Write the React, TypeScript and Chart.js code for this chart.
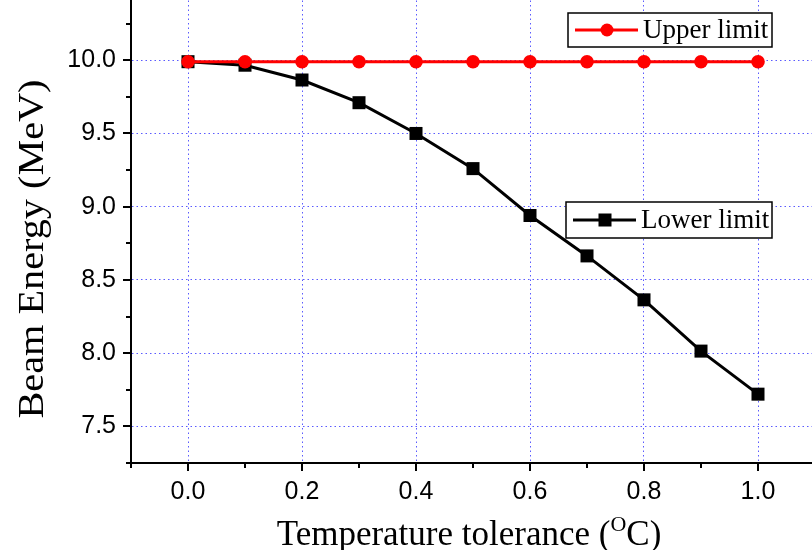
import React, { useEffect, useRef } from "react";
import { Chart, registerables } from "chart.js";

Chart.register(...registerables);

// ---- data ----
const temperatureTolerance = [0.0, 0.1, 0.2, 0.3, 0.4, 0.5, 0.6, 0.7, 0.8, 0.9, 1.0];
const upperLimit = [9.99, 9.99, 9.99, 9.99, 9.99, 9.99, 9.99, 9.99, 9.99, 9.99, 9.99];
const lowerLimit = [9.99, 9.966, 9.865, 9.71, 9.5, 9.26, 8.94, 8.664, 8.364, 8.014, 7.72];

const xMajorTicks = [0.0, 0.2, 0.4, 0.6, 0.8, 1.0];
const xMinorTicks = [-0.1, 0.1, 0.3, 0.5, 0.7, 0.9, 1.1];
const yMajorTicks = [7.5, 8.0, 8.5, 9.0, 9.5, 10.0];
const yMinorTicks = [7.25, 7.75, 8.25, 8.75, 9.25, 9.75, 10.25];

const seriesNames = ["Upper limit", "Lower limit"];
const xTitle = ["Temperature tolerance (", "O", "C)"];
const yTitle = "Beam Energy (MeV)";

const SERIF = "'Liberation Serif', 'Times New Roman', serif";
const SANS = "'Liberation Sans', Arial, sans-serif";

const isIn = (arr: number[], v: number) => arr.some((a) => Math.abs(a - v) < 1e-6);

const decorPlugin = {
  id: "decor",
  afterDraw(chart: any) {
    const ctx = chart.ctx;
    const xs = chart.scales.x;
    const ys = chart.scales.y;
    const ca = chart.chartArea;
    ctx.save();
    // tick marks (outward)
    ctx.strokeStyle = "#000";
    ctx.lineWidth = 2;
    ctx.beginPath();
    [...xMajorTicks, ...xMinorTicks].forEach((v) => {
      const px = Math.round(xs.getPixelForValue(v));
      const len = isIn(xMajorTicks, v) ? 8 : 5;
      ctx.moveTo(px, ca.bottom);
      ctx.lineTo(px, ca.bottom + len);
    });
    [...yMajorTicks, ...yMinorTicks].forEach((v) => {
      const py = Math.round(ys.getPixelForValue(v));
      const len = isIn(yMajorTicks, v) ? 8 : 5;
      ctx.moveTo(ca.left, py);
      ctx.lineTo(ca.left - len, py);
    });
    ctx.stroke();

    // axis titles
    ctx.fillStyle = "#000";
    const big = 35;
    const small = 22;
    ctx.font = `${big}px ${SERIF}`;
    const w1 = ctx.measureText(xTitle[0]).width;
    const w3 = ctx.measureText(xTitle[2]).width;
    ctx.font = `${small}px ${SERIF}`;
    const w2 = ctx.measureText(xTitle[1]).width;
    const total = w1 + w2 + w3;
    let tx = (ca.left + ca.right) / 2 - total / 2 - 4;
    const ty = ca.bottom + 82;
    ctx.textBaseline = "alphabetic";
    ctx.textAlign = "left";
    ctx.font = `${big}px ${SERIF}`;
    ctx.fillText(xTitle[0], tx, ty);
    tx += w1;
    ctx.font = `${small}px ${SERIF}`;
    ctx.fillText(xTitle[1], tx, ty - 14);
    tx += w2;
    ctx.font = `${big}px ${SERIF}`;
    ctx.fillText(xTitle[2], tx, ty);

    ctx.save();
    ctx.translate(ca.left - 88, (ca.top + ca.bottom) / 2 + 24);
    ctx.rotate(-Math.PI / 2);
    ctx.scale(1.15, 1);
    ctx.textAlign = "center";
    ctx.textBaseline = "alphabetic";
    ctx.font = `${big}px ${SERIF}`;
    ctx.fillText(yTitle, 0, 0);
    ctx.restore();

    // legends
    const drawLegend = (i: number, bx: number, by: number, bw: number, bh: number) => {
      const ds = chart.data.datasets[i];
      ctx.fillStyle = "#fff";
      ctx.fillRect(bx, by, bw, bh);
      ctx.strokeStyle = "#000";
      ctx.lineWidth = 1.5;
      ctx.strokeRect(bx, by, bw, bh);
      const cy = by + bh / 2;
      ctx.strokeStyle = ds.borderColor;
      ctx.lineWidth = 3;
      ctx.beginPath();
      ctx.moveTo(bx + 7, cy);
      ctx.lineTo(bx + 70, cy);
      ctx.stroke();
      ctx.fillStyle = ds.pointBackgroundColor;
      const mx = bx + 39;
      if (ds.pointStyle === "rect") {
        ctx.fillRect(mx - 6.5, cy - 6.5, 13, 13);
      } else {
        ctx.beginPath();
        ctx.arc(mx, cy, 6.5, 0, Math.PI * 2);
        ctx.fill();
      }
      ctx.fillStyle = "#000";
      ctx.font = `27px ${SERIF}`;
      ctx.textAlign = "left";
      ctx.textBaseline = "middle";
      ctx.fillText(ds.label, bx + 75, cy + 1);
    };
    drawLegend(0, ca.left + 437, ca.top + 26, 204, 34);
    drawLegend(1, ca.left + 435, ca.top + 215, 206, 36);
    ctx.restore();
  },
};

const zeroPad = (s: any) => {
  s.paddingTop = 0;
  s.paddingBottom = 0;
  s.paddingLeft = 0;
  s.paddingRight = 0;
};

export default function App() {
  const ref = useRef<HTMLCanvasElement | null>(null);
  useEffect(() => {
    if (!ref.current) return;
    document.body.style.overflow = "hidden";
    const chart = new Chart(ref.current, {
      type: "line",
      data: {
        datasets: [
          {
            label: seriesNames[0],
            data: temperatureTolerance.map((x, i) => ({ x, y: upperLimit[i] })),
            borderColor: "#ff0000",
            backgroundColor: "#ff0000",
            pointBackgroundColor: "#ff0000",
            pointBorderColor: "#ff0000",
            pointBorderWidth: 0,
            pointStyle: "circle",
            pointRadius: 6.8,
            borderWidth: 3,
            tension: 0,
          },
          {
            label: seriesNames[1],
            data: temperatureTolerance.map((x, i) => ({ x, y: lowerLimit[i] })),
            borderColor: "#000000",
            backgroundColor: "#000000",
            pointBackgroundColor: "#000000",
            pointBorderColor: "#000000",
            pointBorderWidth: 0,
            pointStyle: "rect",
            pointRadius: 9.2,
            borderWidth: 3,
            tension: 0,
          },
        ],
      },
      options: {
        responsive: false,
        animation: false,
        layout: { padding: 0, autoPadding: false },
        plugins: { legend: { display: false }, tooltip: { enabled: false } },
        scales: {
          x: {
            type: "linear",
            min: -0.1,
            max: 1.1,
            afterBuildTicks: (s: any) => {
              s.ticks = [...xMinorTicks, ...xMajorTicks]
                .sort((a, b) => a - b)
                .map((v) => ({ value: v }));
            },
            afterFit: (s: any) => {
              s.height = 87;
              zeroPad(s);
            },
            ticks: {
              autoSkip: false,
              maxRotation: 0,
              padding: 14,
              color: "#000",
              font: { family: SANS, size: 25 },
              callback: (v: any) => (isIn(xMajorTicks, Number(v)) ? Number(v).toFixed(1) : ""),
            },
            grid: {
              drawTicks: false,
              lineWidth: 1,
              color: (c: any) =>
                c.tick && isIn(xMajorTicks, c.tick.value) ? "#5a5aff" : "rgba(0,0,0,0)",
            },
            border: { color: "#000", width: 2, dash: [1.5, 3] },
          },
          y: {
            type: "linear",
            min: 7.25,
            max: 10.5,
            afterBuildTicks: (s: any) => {
              s.ticks = [...yMinorTicks, ...yMajorTicks]
                .sort((a, b) => a - b)
                .map((v) => ({ value: v }));
            },
            afterFit: (s: any) => {
              s.width = 131;
              zeroPad(s);
            },
            ticks: {
              autoSkip: false,
              padding: 15,
              color: "#000",
              font: { family: SANS, size: 25 },
              callback: (v: any) => (isIn(yMajorTicks, Number(v)) ? Number(v).toFixed(1) : ""),
            },
            grid: {
              drawTicks: false,
              lineWidth: 1,
              color: (c: any) =>
                c.tick && isIn(yMajorTicks, c.tick.value) ? "#5a5aff" : "rgba(0,0,0,0)",
            },
            border: { color: "#000", width: 2, dash: [1.5, 3] },
          },
        },
      },
      plugins: [decorPlugin],
    } as any);
    return () => chart.destroy();
  }, []);

  return (
    <div
      style={{
        position: "fixed",
        left: 0,
        top: 0,
        width: 812,
        height: 550,
        overflow: "hidden",
        background: "#fff",
      }}
    >
      <canvas
        ref={ref}
        width={815}
        height={563}
        style={{ position: "absolute", left: 0, top: -13, width: 815, height: 563 }}
      />
    </div>
  );
}
